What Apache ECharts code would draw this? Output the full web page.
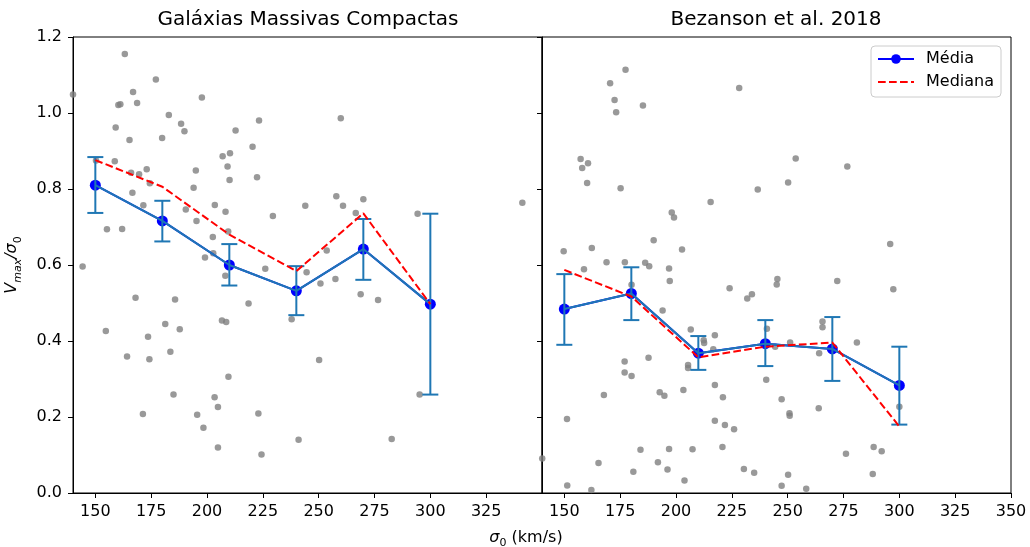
<!DOCTYPE html>
<html>
<head>
<meta charset="utf-8">
<script src="https://cdn.jsdelivr.net/npm/echarts@6/dist/echarts.min.js"></script>
<style>html,body{margin:0;padding:0;background:#fff}#c{width:1030px;height:547px}</style>
</head>
<body>
<div id="c"></div>
<script>
// ---- data ----
const binCenters = [150, 180, 210, 240, 270, 300];

const leftMean   = [0.810, 0.716, 0.600, 0.532, 0.642, 0.497];
const leftMedian = [0.876, 0.806, 0.680, 0.584, 0.736, 0.497];
const leftErrLow  = [0.737, 0.662, 0.546, 0.468, 0.561, 0.259];
const leftErrHigh = [0.884, 0.769, 0.655, 0.597, 0.721, 0.735];

const rightMean   = [0.484, 0.525, 0.368, 0.393, 0.379, 0.283];
const rightMedian = [0.587, 0.517, 0.357, 0.385, 0.396, 0.175];
const rightErrLow  = [0.390, 0.455, 0.324, 0.334, 0.295, 0.180];
const rightErrHigh = [0.576, 0.594, 0.413, 0.455, 0.463, 0.385];

const leftScatter = [
[140,1.049],[163.2,1.155],[177.1,1.088],[166.9,1.055],[160.3,1.021],[161.2,1.023],[168.7,1.026],[197.7,1.041],
[182.9,0.995],[188.4,0.972],[189.9,0.952],[212.8,0.954],[223.3,0.980],[159.1,0.962],[165.3,0.929],[179.9,0.934],
[220.4,0.911],[207,0.886],[210.3,0.894],[209.2,0.859],[210.1,0.824],[222.4,0.831],[158.7,0.873],[166,0.843],
[169.6,0.839],[173,0.852],[195,0.849],[174.4,0.815],[194,0.803],[166.6,0.790],[150.3,0.875],
[171.5,0.757],[190.5,0.746],[203.5,0.758],[208.3,0.740],[195.3,0.716],[229.5,0.729],[244,0.756],[155.2,0.694],
[162,0.695],[202.6,0.674],[209.5,0.688],[202.8,0.631],[199.1,0.620],[226.1,0.590],[144.3,0.596],[208.2,0.572],
[244.6,0.581],[168,0.514],[185.7,0.509],[218.6,0.499],[154.7,0.426],[181.3,0.445],[187.8,0.431],[206.7,0.454],
[208.6,0.450],[237.9,0.457],[173.6,0.411],[164.2,0.359],[174.2,0.352],[183.6,0.372],[209.6,0.306],[185,0.259],
[203.4,0.252],[204.9,0.226],[171.3,0.208],[195.6,0.206],[223,0.209],[198.4,0.172],[204.9,0.120],[241,0.140],
[224.4,0.101],[259.9,0.986],[257.9,0.781],[260.9,0.756],[270,0.773],[266.6,0.737],[294.3,0.735],[341.2,0.764],
[253.6,0.638],[250.8,0.551],[257.5,0.563],[268.8,0.523],[276.6,0.508],[250.2,0.350],[295.2,0.259],[282.7,0.142]
];

const rightScatter = [
[177.4,1.114],[170.5,1.078],[172.5,1.034],[173.2,1.002],[185.2,1.020],[228.3,1.066],[157.3,0.879],[160.6,0.868],
[158,0.855],[160.2,0.816],[175.2,0.802],[236.6,0.799],[250.2,0.817],[215.5,0.766],[198.1,0.738],[199.1,0.725],
[190,0.665],[149.7,0.636],[162.3,0.645],[202.7,0.641],[168.9,0.607],[177.1,0.607],[186.2,0.606],[188,0.597],
[196.9,0.591],[158.8,0.589],[197.2,0.558],[180.1,0.548],[194,0.480],[224,0.539],[231.9,0.512],[234,0.523],
[245.1,0.549],[245.4,0.563],[206.6,0.430],[212.4,0.402],[212.6,0.395],[217.4,0.415],[216.7,0.378],[240.7,0.432],
[244.4,0.385],[177,0.346],[187.7,0.356],[205.4,0.337],[205.4,0.329],[177,0.317],[180.1,0.308],[240.4,0.298],
[167.7,0.258],[192.7,0.265],[194.8,0.256],[203.3,0.271],[217.4,0.284],[221,0.252],[247.3,0.247],[151.2,0.195],
[217.4,0.190],[221.9,0.179],[226,0.168],[184.1,0.114],[196.9,0.116],[207.4,0.115],[220.8,0.121],[140.1,0.091],
[165.3,0.079],[191.9,0.081],[196.2,0.062],[180.9,0.056],[230.4,0.063],[235,0.053],[203.8,0.033],[151.3,0.020],
[162.1,0.008],[247.3,0.019],[253.6,0.880],[276.7,0.859],[295.9,0.655],[272.2,0.558],[297.3,0.536],[265.6,0.451],
[265.6,0.436],[281,0.396],[251.1,0.396],[264.1,0.368],[250.8,0.210],[250.9,0.203],[263.9,0.223],[300,0.227],
[276.1,0.103],[288.5,0.121],[292.1,0.110],[288.1,0.050],[250.2,0.048],[258.3,0.011]
];

const leftXTicks  = [150, 175, 200, 225, 250, 275, 300, 325];
const rightXTicks = [150, 175, 200, 225, 250, 275, 300, 325, 350];
const yTicks = [0, 0.2, 0.4, 0.6, 0.8, 1.0, 1.2];
const titles = ['Galáxias Massivas Compactas', 'Bezanson et al. 2018'];

// ---- helpers ----
const FONT = 'DejaVu Sans';
const FS = 16;
const zip = (xs, ys) => xs.map((x, i) => [x, ys[i]]);
const errData = (lo, hi) => binCenters.map((x, i) => [x, lo[i], hi[i]]);

function errRender(params, api) {
  const x = api.value(0);
  const p1 = api.coord([x, api.value(1)]);
  const p2 = api.coord([x, api.value(2)]);
  const cap = 8;
  const st = { stroke: '#1f77b4', lineWidth: 2 };
  return { type: 'group', children: [
    { type: 'line', shape: { x1: p1[0], y1: p1[1], x2: p2[0], y2: p2[1] }, style: st },
    { type: 'line', shape: { x1: p1[0] - cap, y1: p1[1], x2: p1[0] + cap, y2: p1[1] }, style: st },
    { type: 'line', shape: { x1: p2[0] - cap, y1: p2[1], x2: p2[0] + cap, y2: p2[1] }, style: st }
  ]};
}

function panelSeries(idx, scatter, mean, median, lo, hi) {
  return [
    { type: 'scatter', xAxisIndex: idx, yAxisIndex: idx, data: scatter, symbolSize: 6.5,
      itemStyle: { color: '#808080' }, z: 1, silent: true },
    { name: 'Média', type: 'line', xAxisIndex: idx, yAxisIndex: idx, data: zip(binCenters, mean),
      symbol: 'circle', symbolSize: 11, itemStyle: { color: '#0000ff' },
      lineStyle: { color: '#0000ff', width: 2 }, z: 2, animation: false },
    { type: 'line', xAxisIndex: idx, yAxisIndex: idx, data: zip(binCenters, mean), symbol: 'none',
      lineStyle: { color: '#1f77b4', width: 2 }, z: 3, animation: false },
    { type: 'custom', xAxisIndex: idx, yAxisIndex: idx, data: errData(lo, hi), renderItem: errRender,
      encode: { x: 0, y: [1, 2] }, z: 3, animation: false },
    { name: 'Mediana', type: 'line', xAxisIndex: idx, yAxisIndex: idx, data: zip(binCenters, median),
      symbol: 'none', itemStyle: { color: '#ff0000' },
      lineStyle: { color: '#ff0000', width: 2, type: [7.7, 3.3] }, z: 4, animation: false }
  ];
}

const axisCommon = {
  axisLine: { show: true, onZero: false, lineStyle: { color: '#000', width: 1 } },
  axisTick: { show: true, length: 5, lineStyle: { color: '#000', width: 1 } },
  splitLine: { show: false },
  axisLabel: { color: '#000', fontFamily: FONT, fontSize: FS }
};

function xAxis(idx, ticks) {
  return Object.assign({}, axisCommon, {
    type: 'value', gridIndex: idx, min: 140, max: 350,
    axisTick: Object.assign({}, axisCommon.axisTick, { customValues: ticks }),
    axisLabel: Object.assign({}, axisCommon.axisLabel, { customValues: ticks, margin: 11, formatter: v => String(v) })
  });
}
function yAxis(idx, showLabels) {
  const ax = Object.assign({}, axisCommon, {
    type: 'value', gridIndex: idx, min: 0, max: 1.2,
    axisTick: Object.assign({}, axisCommon.axisTick, { customValues: yTicks }),
    axisLabel: Object.assign({}, axisCommon.axisLabel, { show: showLabels, customValues: yTicks, margin: 11,
      formatter: v => v.toFixed(1) })
  });
  if (showLabels) {
    ax.name = '{v|V}{s|max}{v|/σ}{z|0}';
    ax.nameLocation = 'middle';
    ax.nameGap = 49;
    ax.nameRotate = 90;
    ax.nameTextStyle = {
      color: '#000', fontFamily: FONT,
      rich: {
        v: { fontFamily: FONT, fontSize: FS, fontStyle: 'italic', color: '#000', lineHeight: 24, verticalAlign: 'middle' },
        s: { fontFamily: FONT, fontSize: 11, fontStyle: 'italic', color: '#000', lineHeight: 11, verticalAlign: 'bottom' },
        z: { fontFamily: FONT, fontSize: 11, color: '#000', lineHeight: 11, verticalAlign: 'bottom' }
      }
    };
  }
  return ax;
}

const option = {
  animation: false,
  backgroundColor: '#fff',
  grid: [
    { left: 73, top: 37, width: 469, height: 456, show: true, borderColor: '#000', borderWidth: 1 },
    { left: 542, top: 37, width: 469, height: 456, show: true, borderColor: '#000', borderWidth: 1 }
  ],
  xAxis: [xAxis(0, leftXTicks), xAxis(1, rightXTicks)],
  yAxis: [yAxis(0, true), yAxis(1, false)],
  legend: {
    data: ['Média', { name: 'Mediana', itemStyle: { opacity: 0 } }],
    orient: 'vertical', left: 871, top: 46,
    padding: [5, 7, 7, 6], itemGap: 7, itemWidth: 36, itemHeight: 12,
    backgroundColor: 'rgba(255,255,255,0.8)', borderColor: '#cccccc', borderWidth: 1, borderRadius: 4,
    textStyle: { fontFamily: FONT, fontSize: FS, color: '#000', padding: [0, 0, 0, 7] }
  },
  graphic: [
    { type: 'text', x: 308, y: 20, style: { text: titles[0], fontFamily: FONT, fontSize: 20, fill: '#000', align: 'center', verticalAlign: 'middle' } },
    { type: 'text', x: 776, y: 20, style: { text: titles[1], fontFamily: FONT, fontSize: 20, fill: '#000', align: 'center', verticalAlign: 'middle' } },
    { type: 'text', x: 526, y: 538, style: {
        text: '{g|σ}{z|0}{t| (km/s)}', align: 'center', verticalAlign: 'middle',
        rich: {
          g: { fontFamily: FONT, fontSize: FS, fontStyle: 'italic', fill: '#000', lineHeight: 22, verticalAlign: 'middle' },
          z: { fontFamily: FONT, fontSize: 11, fill: '#000', lineHeight: 11, verticalAlign: 'bottom' },
          t: { fontFamily: FONT, fontSize: FS, fill: '#000', lineHeight: 22, verticalAlign: 'middle' }
        } } }
  ],
  series: [].concat(
    panelSeries(0, leftScatter, leftMean, leftMedian, leftErrLow, leftErrHigh),
    panelSeries(1, rightScatter, rightMean, rightMedian, rightErrLow, rightErrHigh)
  )
};

const chart = echarts.init(document.getElementById('c'), null, { renderer: 'canvas' });
chart.setOption(option);
</script>
</body>
</html>
